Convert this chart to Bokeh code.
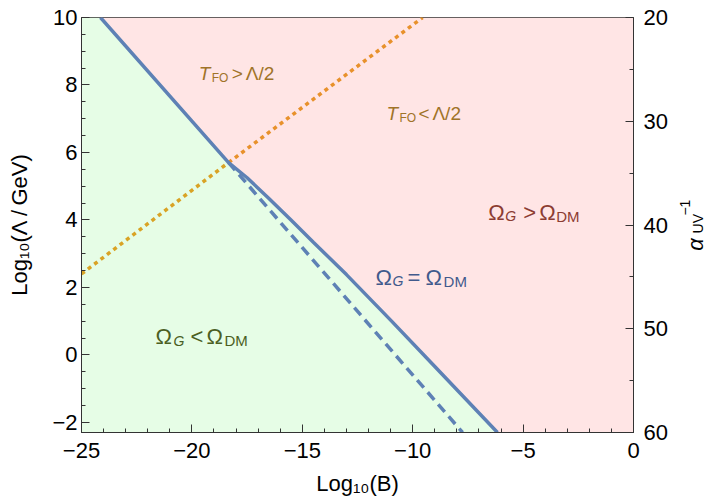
from math import pi
from bokeh.plotting import figure
from bokeh.models import Range1d, LinearAxis, FixedTicker, Label
from bokeh.layouts import row
from bokeh.core.properties import value
from bokeh.embed import file_html
from bokeh.resources import INLINE

# ---------------- data ----------------
x_min, x_max = -25.0, 0.0
y_min, y_max = -2.3, 10.0
alpha_bottom, alpha_top = 60, 20

x_ticks = [-25, -20, -15, -10, -5, 0]
x_tick_labels = ["\u221225", "\u221220", "\u221215", "\u221210", "\u22125", "0"]
x_minor = [v for v in range(-25, 1) if v % 5 != 0]
y_ticks = [-2, 0, 2, 4, 6, 8, 10]
y_tick_labels = ["\u22122", "0", "2", "4", "6", "8", "10"]
y_minor = [v / 2 for v in range(-4, 21) if v % 4 != 0]
alpha_ticks = [20, 30, 40, 50, 60]
alpha_tick_labels = ["20", "30", "40", "50", "60"]
alpha_minor = [25, 35, 45, 55]

x_label = "Log\u2081\u2080(B)"
y_label = "Log\u2081\u2080(\u039b\u2009/\u2009GeV)"

# Omega_G = Omega_DM boundary (solid)
relic_x = [-24.14, -18.34, -17.5, -16.5, -15.5, -14.5, -13.0, -11.0, -9.0, -6.16]
relic_y = [10.0, 5.70, 5.25, 4.63, 3.99, 3.34, 2.38, 1.03, -0.345, -2.30]
# alternative boundary (dashed)
relic_alt_x = [-18.34, -7.74]
relic_alt_y = [5.70, -2.30]
# T_FO = Lambda/2 (dotted)
tfo_low_x = [-25.0, -18.34]
tfo_low_y = [2.40, 5.70]
tfo_high_x = [-18.34, -9.55]
tfo_high_y = [5.70, 10.0]

FONT = "Liberation Sans"
AXC = "#333333"

p = figure(width=676, height=503,
           x_range=Range1d(x_min, x_max), y_range=Range1d(y_min, y_max),
           output_backend="svg", toolbar_location=None,
           min_border_left=81, min_border_right=43, min_border_top=17, min_border_bottom=71,
           background_fill_color="white", border_fill_color="white", margin=(0, 0, 0, 0))
p.xgrid.visible = False
p.ygrid.visible = False
p.outline_line_color = AXC
p.outline_line_width = 1

# regions
p.patch(relic_x + [x_min, x_min], relic_y + [y_min, y_max],
        fill_color="#E6FDE6", line_color=None)
p.patch(relic_x + [x_max, x_max], relic_y + [y_min, y_max],
        fill_color="#FFE5E5", line_color=None)

# lines
p.line(tfo_low_x, tfo_low_y, line_color="#D9A325", line_width=3.5, line_dash="4 4", line_cap="butt")
p.line(tfo_high_x, tfo_high_y, line_color="#E8912B", line_width=3.5, line_dash="4 4", line_cap="butt")
p.line(relic_alt_x, relic_alt_y, line_color="#5E81B5", line_width=3.5, line_dash="10 6", line_cap="butt")
p.line(relic_x, relic_y, line_color="#5E81B5", line_width=3.5)

def style_axis(ax, standoff):
    ax.major_label_text_font = FONT
    ax.major_label_text_font_size = "22px"
    ax.major_label_text_color = "black"
    ax.axis_label_text_font = FONT
    ax.axis_label_text_font_size = "22px"
    ax.axis_label_text_font_style = "normal"
    ax.axis_label_text_color = "black"
    ax.axis_line_color = AXC
    ax.major_tick_line_color = AXC
    ax.minor_tick_line_color = AXC
    ax.major_tick_in = 8
    ax.major_tick_out = 0
    ax.minor_tick_in = 4
    ax.minor_tick_out = 0
    ax.major_label_standoff = standoff

xa = p.xaxis[0]
xa.ticker = FixedTicker(ticks=x_ticks, minor_ticks=x_minor)
xa.major_label_overrides = dict(zip(x_ticks, x_tick_labels))
xa.axis_label = x_label
style_axis(xa, 10)
xa.axis_label_standoff = 10

ya = p.yaxis[0]
ya.ticker = FixedTicker(ticks=y_ticks, minor_ticks=y_minor)
ya.major_label_overrides = dict(zip(y_ticks, y_tick_labels))
ya.axis_label = y_label
style_axis(ya, 4)
ya.axis_label_standoff = 17

p.extra_y_ranges = {"alpha": Range1d(alpha_bottom, alpha_top)}
ra = LinearAxis(y_range_name="alpha",
                ticker=FixedTicker(ticks=alpha_ticks, minor_ticks=alpha_minor))
ra.major_label_overrides = dict(zip(alpha_ticks, alpha_tick_labels))
style_axis(ra, 10)
p.add_layout(ra, "right")

def rich(x, y, pieces, color):
    for text, dx, dy, size, style in pieces:
        p.add_layout(Label(x=x, y=y, x_offset=dx, y_offset=dy, text=text,
                           text_font=FONT, text_font_size=f"{size}px", text_font_style=style,
                           text_color=color, text_baseline="alphabetic", text_align="left"))

OMC_LT = "#4B5F23"
OMC_EQ = "#415A8C"
OMC_GT = "#8C3C32"
TFO_C = "#A07328"

rich(-21.65, 0.545, [("\u03a9", 0, 0, 22, "normal"), ("G", 18, -4, 14, "italic"),
                     ("<", 35, 0, 22, "normal"), ("\u03a9", 51, 0, 22, "normal"),
                     ("DM", 69, -4, 15, "normal")], OMC_LT)
rich(-11.68, 2.30, [("\u03a9", 0, 0, 22, "normal"), ("G", 17, -4, 14, "italic"),
                    ("=", 32, 0, 22, "normal"), ("\u03a9", 50, 0, 22, "normal"),
                    ("DM", 68, -4, 15, "normal")], OMC_EQ)
rich(-6.58, 4.23, [("\u03a9", 0, 0, 22, "normal"), ("G", 17, -4, 14, "italic"),
                   (">", 35, 0, 22, "normal"), ("\u03a9", 51, 0, 22, "normal"),
                   ("DM", 68, -4, 15, "normal")], OMC_GT)
rich(-19.69, 8.33, [("T", 0, 0, 19, "italic"), ("FO", 13, -4, 12, "normal"),
                    (">", 33, 0, 19, "normal"), ("\u039b/2", 47, 0, 19, "normal")], TFO_C)
rich(-11.19, 7.15, [("T", 0, 0, 19, "italic"), ("FO", 13, -4, 12, "normal"),
                    ("<", 32, 0, 19, "normal"), ("\u039b/2", 46, 0, 19, "normal")], TFO_C)

# ---- right-hand axis title: alpha_UV^-1 (rotated), in a narrow companion figure ----
p2 = figure(width=31, height=503, x_range=Range1d(0, 31), y_range=p.y_range,
            output_backend="svg", toolbar_location=None,
            x_axis_location=None, y_axis_location=None,
            min_border_left=0, min_border_right=0, min_border_top=17, min_border_bottom=71,
            background_fill_color="white", border_fill_color="white", margin=(0, 0, 0, 0))
p2.outline_line_color = None
p2.xgrid.visible = False
p2.ygrid.visible = False
p2.text(x=[19], y=[3.09], text=["\u03b1"], angle=pi / 2, text_font=value(FONT),
        text_font_size="22px", text_font_style="italic", text_color="black",
        text_baseline="alphabetic", text_align="left")
p2.text(x=[21.5], y=[3.60], text=["UV"], angle=pi / 2, text_font=value(FONT),
        text_font_size="14px", text_color="black",
        text_baseline="alphabetic", text_align="left")
p2.text(x=[8.5], y=[4.13], text=["\u22121"], angle=pi / 2, text_font=value(FONT),
        text_font_size="14px", text_color="black",
        text_baseline="alphabetic", text_align="left")

layout = row(p, p2, spacing=0)
open("out.html", "w").write(file_html(layout, INLINE))
